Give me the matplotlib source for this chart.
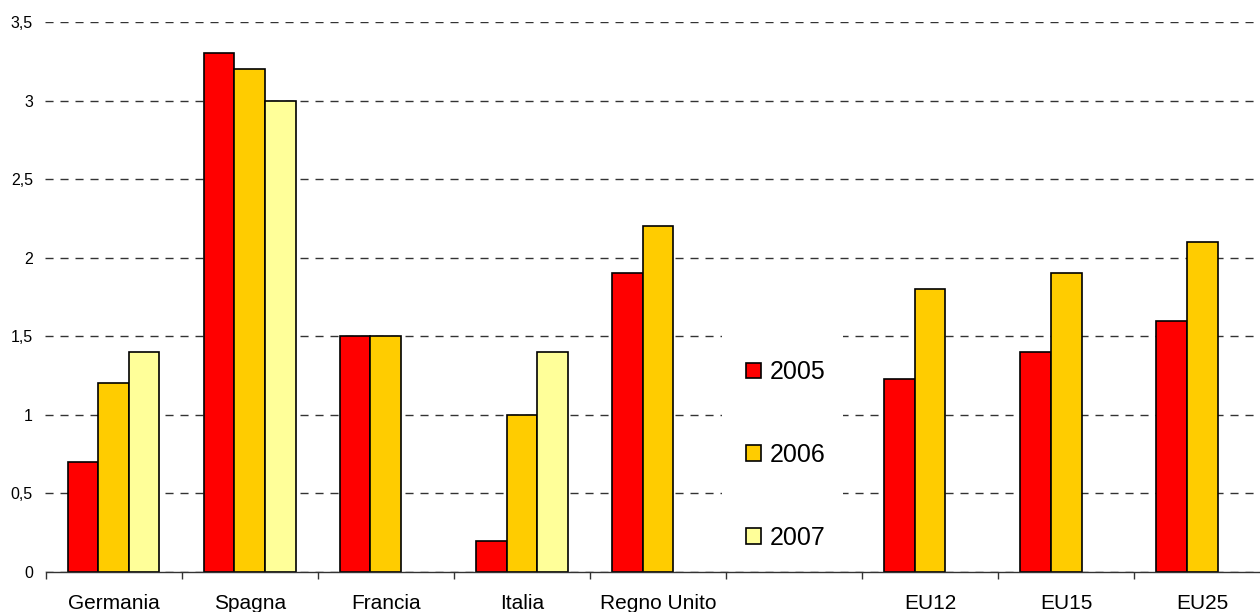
import numpy as np
import matplotlib
matplotlib.use("Agg")
import matplotlib.pyplot as plt
from matplotlib.patches import Rectangle
from matplotlib.ticker import FixedLocator

plt.rcParams['font.family'] = ['Liberation Sans', 'DejaVu Sans']

# data
categories = ['Germania', 'Spagna', 'Francia', 'Italia', 'Regno Unito', '',
              'EU12', 'EU15', 'EU25']
years = ['2005', '2006', '2007']
v2005 = [0.7, 3.3, 1.5, 0.2, 1.9, np.nan, 1.23, 1.4, 1.6]
v2006 = [1.2, 3.2, 1.5, 1.0, 2.2, np.nan, 1.8, 1.9, 2.1]
v2007 = [1.4, 3.0, np.nan, 1.4, np.nan, np.nan, np.nan, np.nan, np.nan]
yticks = [0, 0.5, 1, 1.5, 2, 2.5, 3, 3.5]
ytick_labels = ['0', '0,5', '1', '1,5', '2', '2,5', '3', '3,5']

colors = ['#FF0000', '#FFCC00', '#FFFF99']

fig = plt.figure(figsize=(12.6, 6.12), dpi=100)
W, H = 1260, 612
slot = 136.1
ax = fig.add_axes([45.5 / W, 40 / H, 9 * slot / W, 550 / H])

x = np.arange(len(categories))
width = 0.225
series = [v2005, v2006, v2007]
for i, (vals, col, lab) in enumerate(zip(series, colors, years)):
    vals = np.array(vals)
    ok = ~np.isnan(vals)  # skip missing values, no empty bars
    ax.bar(x[ok] + (i - 1) * width, vals[ok], width, color=col,
           edgecolor='black', linewidth=1.2, label=lab, zorder=1)

ax.set_xlim(-0.5, len(categories) - 0.5)
ax.set_ylim(0, 3.5)

ax.set_axisbelow(True)
ax.yaxis.grid(True, color='#333333', linewidth=1, linestyle=(0, (5.8, 5)))
ax.set_yticks(yticks)
ax.set_yticklabels(ytick_labels)
ax.tick_params(axis='y', length=0, pad=9, labelsize=11.5)

ax.set_xticks(x)
ax.set_xticklabels(categories)
ax.xaxis.set_minor_locator(FixedLocator(np.arange(-0.5, len(categories), 1.0)))
ax.tick_params(axis='x', which='major', length=0, pad=16, labelsize=15)
ax.tick_params(axis='x', which='minor', length=5, width=1, color='#333333')

for s in ['left', 'top', 'right']:
    ax.spines[s].set_visible(False)
ax.spines['bottom'].set_color('#333333')
ax.spines['bottom'].set_linewidth(1)

# white background behind the legend, hides the gridlines in the empty slot
ax.add_patch(Rectangle((4.47, 0.02), 0.89, 1.68, facecolor='white',
                       edgecolor='none', zorder=0.8))

leg = ax.legend(loc='center', bbox_to_anchor=(786 / W, 1 - 455 / H),
                bbox_transform=fig.transFigure, fontsize=18,
                handlelength=0.6, handleheight=0.6, handletextpad=0.35,
                labelspacing=2.35, frameon=False)

fig.savefig('out.png', dpi=100)
